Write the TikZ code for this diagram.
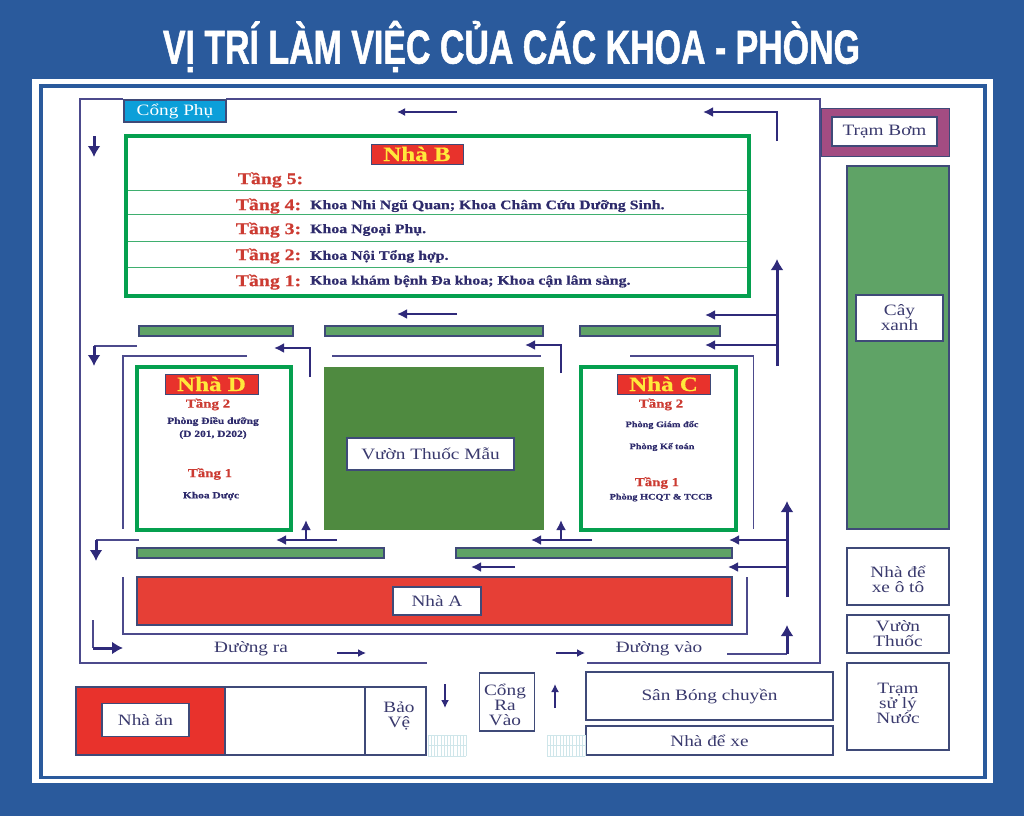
\documentclass[tikz,border=0pt]{standalone}
\usepackage{fontspec}
\usetikzlibrary{arrows.meta}
\setmainfont{Liberation Serif}
\newfontfamily\widefont[FakeStretch=1.22,BoldFeatures={FakeBold=0.6}]{Liberation Serif}
\newfontfamily\titlefont[BoldFeatures={FakeBold=1.4}]{Liberation Sans}
\definecolor{bgblue}{HTML}{2A5A9C}
\definecolor{navy}{HTML}{2F2A7A}
\definecolor{wallc}{HTML}{4C4A8C}
\definecolor{edgec}{HTML}{3F4A78}
\definecolor{bgreen}{HTML}{05A04F}
\definecolor{lgreen}{HTML}{5FA366}
\definecolor{dgreen}{HTML}{4F8A40}
\definecolor{redA}{HTML}{E63F36}
\definecolor{redB}{HTML}{E8322C}
\definecolor{tangc}{HTML}{CC3B32}
\definecolor{deptc}{HTML}{2E2B6C}
\definecolor{yell}{HTML}{FFE93B}
\definecolor{purp}{HTML}{A34C82}
\definecolor{cyanb}{HTML}{0C9FD9}
\definecolor{labc}{HTML}{3A3A6E}
\definecolor{gridc}{HTML}{CFE6EA}
\definecolor{rowline}{HTML}{3FAF6F}
\tikzset{
  wall/.style={draw=wallc,line width=1.1pt},
  thinarrow/.style={draw=navy,line width=1.5pt,-{Latex[length=8pt,width=8pt]}},
  medarrow/.style={draw=navy,line width=2pt,-{Latex[length=10pt,width=10pt]}},
  fatarrow/.style={draw=navy,line width=3pt,-{Latex[length=11pt,width=13pt]}},
  box/.style={draw=edgec,line width=1.1pt,fill=white,inner sep=0pt,align=center,text=labc,font=\widefont\fontsize{15.8}{15}\selectfont},
  bar/.style={draw=edgec,line width=1.1pt,fill=lgreen},
  greenbox/.style={draw=bgreen,line width=3.6pt,fill=white},
  tagred/.style={fill=redB,draw=edgec,line width=.4pt,inner sep=0pt,text=yell,font=\widefont\bfseries\fontsize{20.5}{22}\selectfont},
  tang/.style={text=tangc,inner sep=0pt,font=\widefont\bfseries\fontsize{16.2}{17}\selectfont},
  tangs/.style={text=tangc,inner sep=0pt,font=\widefont\bfseries\fontsize{12.2}{13}\selectfont},
  dept/.style={text=deptc,inner sep=0pt,anchor=west,font=\widefont\bfseries\fontsize{13}{14}\selectfont},
  depts/.style={text=deptc,inner sep=0pt,align=center,font=\widefont\bfseries\fontsize{9.4}{13}\selectfont},
  deptc/.style={text=deptc,inner sep=0pt,align=center,font=\widefont\bfseries\fontsize{8.4}{12}\selectfont},
  road/.style={text=labc,inner sep=0pt,align=center,font=\widefont\fontsize{15.8}{15}\selectfont},
}
\begin{document}
\begin{tikzpicture}[x=1pt,y=-1pt]
\useasboundingbox (0,0) rectangle (1024,816);
\fill[bgblue] (0,0) rectangle (1024,816);
\fill[white] (32,79) rectangle (993,783);
\fill[bgblue] (39,84) rectangle (987,779);
\fill[white] (43,88) rectangle (983,776);
\node[text=white,inner sep=0pt] (title) at (511.5,46.5) {\scalebox{.714}[1]{\titlefont\bfseries\fontsize{47.5}{50}\selectfont VỊ TRÍ LÀM VIỆC CỦA CÁC KHOA - PHÒNG}};

% outer road walls
\draw[wall] (123,99) -- (80,99) -- (80,663) -- (427,663);
\draw[wall] (226,99) -- (820,99) -- (820,663) -- (587,663);
\node[box,fill=cyanb,text=white,minimum width=102pt,minimum height=22pt] (congphu) at (175,111) {Cổng Phụ};

% right column
\fill[purp,draw=edgec,line width=.5pt] (821,108) rectangle (949,156);
\node[box,minimum width=105pt,minimum height=29pt] (trambom) at (884.5,131.5) {Trạm Bơm};
\draw[edgec,line width=1.1pt,fill=lgreen] (847,166) rectangle (949,529);
\node[box,minimum width=87pt,minimum height=46pt] (cayxanh) at (899.5,318) {Cây\\xanh};
\node[box,minimum width=102pt,minimum height=57pt] (xeoto) at (898,576.5) {};
\node[road] (xeototext) at (898,579) {Nhà để\\xe ô tô};
\node[box,minimum width=102pt,minimum height=38pt] (vuonthuoc) at (898,634) {Vườn\\Thuốc};
\node[box,minimum width=102pt,minimum height=87pt] (tramxl) at (898,706.5) {};
\node[road] (tramxltext) at (898,703.5) {Trạm\\sử lý\\Nước};

% Nha B
\draw[greenbox] (126,136) rectangle (749,296);
\foreach \yy in {190.5,214.5,241.5,267.5} \draw[rowline,line width=1pt] (128,\yy) -- (747,\yy);
\node[tagred,minimum width=92pt,minimum height=20pt] (nhab) at (417,154) {Nhà B};
\node[tang] (b5) at (270.5,180) {Tầng 5:};
\node[tang] (b4) at (268.5,206) {Tầng 4:};
\node[tang] (b3) at (268.5,230) {Tầng 3:};
\node[tang] (b2) at (268.5,256) {Tầng 2:};
\node[tang] (b1) at (268.5,282) {Tầng 1:};
\node[dept] (d4) at (310,206) {Khoa Nhi Ngũ Quan; Khoa Châm Cứu Dưỡng Sinh.};
\node[dept] (d3) at (310,230) {Khoa Ngoại Phụ.};
\node[dept] (d2) at (310,256.5) {Khoa Nội Tổng hợp.};
\node[dept] (d1) at (310,281.5) {Khoa khám bệnh Đa khoa; Khoa cận lâm sàng.};

% green bars
\draw[bar] (139,326) rectangle (293,336);
\draw[bar] (325,326) rectangle (543,336);
\draw[bar] (580,326) rectangle (720,336);
\draw[bar] (137,548) rectangle (384,558);
\draw[bar] (456,548) rectangle (732,558);

% inner walls
\draw[wall] (247,356) -- (123,356) -- (123,529);
\draw[wall] (332,356) -- (541,356);
\draw[wall] (630,356) -- (753.5,356) -- (753.5,529);
\draw[wall] (123,577) -- (123,634) -- (747,634) -- (747,577);

% Nha D
\draw[greenbox] (137,367) rectangle (291,530);
\node[tagred,minimum width=93pt,minimum height=20pt] (nhad) at (211.5,384) {Nhà D};
\node[tangs] (dt2) at (208,404.5) {Tầng 2};
\node[depts] (dt2a) at (213,428) {Phòng Điều dưỡng\\(D 201, D202)};
\node[tangs] (dt1) at (210,474) {Tầng 1};
\node[depts] (dt1a) at (211,496) {Khoa Dược};

% garden
\fill[dgreen] (324,367) rectangle (544,530);
\node[box,minimum width=167pt,minimum height=32pt] (vuonmau) at (430.5,454) {Vườn Thuốc Mẫu};

% Nha C
\draw[greenbox] (581,367) rectangle (736,530);
\node[tagred,minimum width=93pt,minimum height=20pt] (nhac) at (663.5,384) {Nhà C};
\node[tangs] (ct2) at (661,404.5) {Tầng 2};
\node[deptc] (ct2a) at (662,425) {Phòng Giám đốc};
\node[deptc] (ct2b) at (662,447) {Phòng Kế toán};
\node[tangs] (ct1) at (657,483) {Tầng 1};
\node[deptc] (ct1a) at (661,497.5) {Phòng HCQT \& TCCB};

% Nha A
\fill[redA,draw=edgec,line width=1.1pt] (137,577) rectangle (732,625);
\node[box,minimum width=88pt,minimum height=28pt] (nhaa) at (437,601) {Nhà A};

% arrows: top
\coordinate (a1) at (457,112); \coordinate (a2) at (397,112);
\draw[thinarrow] (a1) -- (a2);
\coordinate (a3) at (777,141); \coordinate (a4) at (777,112); \coordinate (a5) at (703,112);
\draw[medarrow] (a3) -- (a4) -- (a5);
\coordinate (a6) at (94,136); \coordinate (a7) at (94,157);
\draw[fatarrow] (a6) -- (a7);
\coordinate (a8) at (777,366); \coordinate (a9) at (777,259);
\draw[fatarrow] (a8) -- (a9);
\coordinate (a10) at (777,315); \coordinate (a11) at (705,315);
\draw[medarrow] (a10) -- (a11);
\coordinate (a12) at (777,345); \coordinate (a13) at (705,345);
\draw[medarrow] (a12) -- (a13);
\coordinate (a14) at (457,314); \coordinate (a15) at (397,314);
\draw[medarrow] (a14) -- (a15);
\coordinate (b1a) at (137,346); \coordinate (b1b) at (94,346); \coordinate (b1c) at (94,366);
\draw[wall] (b1a) -- (b1b);
\draw[fatarrow] (b1b) -- (b1c);
\coordinate (b2a) at (310,377); \coordinate (b2b) at (310,348); \coordinate (b2c) at (274,348);
\draw[medarrow] (b2a) -- (b2b) -- (b2c);
\coordinate (b3a) at (561,373); \coordinate (b3b) at (561,345); \coordinate (b3c) at (525,345);
\draw[medarrow] (b3a) -- (b3b) -- (b3c);
% arrows: lower
\coordinate (c1) at (337,540); \coordinate (c2) at (276,540); \coordinate (c3) at (306,540); \coordinate (c4) at (306,520);
\draw[medarrow] (c1) -- (c2); \draw[medarrow] (c3) -- (c4);
\coordinate (c5) at (592,540); \coordinate (c6) at (531,540); \coordinate (c7) at (561,540); \coordinate (c8) at (561,520);
\draw[medarrow] (c5) -- (c6); \draw[medarrow] (c7) -- (c8);
\coordinate (c9) at (139,540); \coordinate (c10) at (96,540); \coordinate (c11) at (96,561);
\draw[wall] (c9) -- (c10);
\draw[fatarrow] (c10) -- (c11);
\coordinate (d1a) at (515,567); \coordinate (d1b) at (471,567);
\draw[medarrow] (d1a) -- (d1b);
\coordinate (e1) at (787,597); \coordinate (e2) at (787,501);
\draw[fatarrow] (e1) -- (e2);
\coordinate (e3) at (787,540); \coordinate (e4) at (729,540);
\draw[medarrow] (e3) -- (e4);
\coordinate (e5) at (787,567); \coordinate (e6) at (728,567);
\draw[medarrow] (e5) -- (e6);
\coordinate (f1) at (93,620); \coordinate (f2) at (93,648); \coordinate (f3) at (123,648);
\draw[wall] (f1) -- (f2);
\draw[fatarrow] (f2) -- (f3);
\coordinate (f4) at (337,653); \coordinate (f5) at (366,653);
\draw[thinarrow] (f4) -- (f5);
\coordinate (f6) at (556,653); \coordinate (f7) at (585,653);
\draw[thinarrow] (f6) -- (f7);
\coordinate (f8) at (727,654); \coordinate (f9) at (787,654); \coordinate (f10) at (787,625);
\draw[wall] (f8) -- (f9);
\draw[fatarrow] (f9) -- (f10);
\coordinate (g1) at (445,684); \coordinate (g2) at (445,708);
\draw[thinarrow] (g1) -- (g2);
\coordinate (g3) at (555,708); \coordinate (g4) at (555,684);
\draw[thinarrow] (g3) -- (g4);

\node[road] (duongra) at (251,648.5) {Đường ra};
\node[road] (duongvao) at (659,648.5) {Đường vào};

% bottom block
\draw[edgec,line width=1.1pt,fill=white] (76,687) rectangle (426,755);
\fill[redB,draw=edgec,line width=1.1pt] (76,687) rectangle (225,755);
\draw[edgec,line width=1.1pt] (365,687) -- (365,755);
\node[box,minimum width=87pt,minimum height=33pt] (nhaan) at (145.5,720) {Nhà ăn};
\node[road] (baove) at (399,715.5) {Bảo\\Vệ};
\node[box,minimum width=55pt,minimum height=58pt] (congra) at (507,702) {};
\node[road] (congratext) at (505,705) {Cổng\\Ra\\Vào};
\node[box,minimum width=247pt,minimum height=48pt] (sanbong) at (709.5,696) {Sân Bóng chuyền};
\node[box,minimum width=247pt,minimum height=29pt] (nhadexe) at (709.5,740.5) {Nhà để xe};

% gate grids
\foreach \xo in {428,547}{
  \foreach \i in {0,...,12} \draw[gridc,line width=.4pt] ({\xo+\i*3.2},735) -- ({\xo+\i*3.2},756);
  \foreach \j in {0,1,2} \draw[gridc,line width=.4pt] (\xo,{735+\j*10.5}) -- ({\xo+38.4},{735+\j*10.5});
}
\end{tikzpicture}
\end{document}
